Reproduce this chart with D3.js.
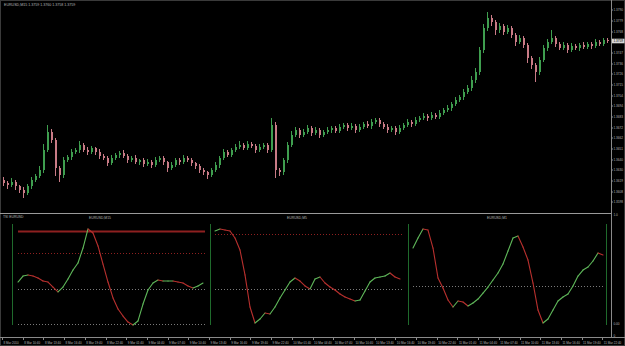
<!DOCTYPE html>
<html>
<head>
<meta charset="utf-8">
<script src="https://d3js.org/d3.v7.min.js"></script>
<style>
  body { margin: 0; background: #000; }
  text { font-family: "Liberation Sans", "DejaVu Sans", sans-serif; }
</style>
</head>
<body>
<svg></svg>
<script>
// EURUSD M15 closes (open of each bar = previous close)
var firstOpen = 1.3620;
var closes = [
  1.3617,1.3615,1.3618,1.3614,1.3610,1.3607,1.3614,1.3620,1.3624,1.3630,
  1.3650,1.3668,1.3660,1.3632,1.3625,1.3640,1.3643,1.3648,1.3650,1.3655,
  1.3650,1.3648,1.3652,1.3648,1.3644,1.3642,1.3637,1.3642,1.3645,1.3647,
  1.3644,1.3640,1.3642,1.3638,1.3640,1.3636,1.3638,1.3635,1.3640,1.3642,
  1.3638,1.3632,1.3635,1.3640,1.3638,1.3642,1.3640,1.3637,1.3634,1.3630,
  1.3628,1.3625,1.3630,1.3635,1.3642,1.3648,1.3645,1.3650,1.3653,1.3655,
  1.3652,1.3656,1.3654,1.3650,1.3653,1.3655,1.3650,1.3675,1.3630,1.3628,
  1.3640,1.3655,1.3665,1.3670,1.3665,1.3668,1.3672,1.3667,1.3670,1.3665,
  1.3668,1.3670,1.3672,1.3669,1.3673,1.3675,1.3672,1.3674,1.3670,1.3673,
  1.3676,1.3674,1.3678,1.3680,1.3676,1.3673,1.3670,1.3672,1.3668,1.3672,
  1.3675,1.3678,1.3676,1.3680,1.3682,1.3684,1.3682,1.3685,1.3683,1.3687,
  1.3690,1.3692,1.3696,1.3700,1.3703,1.3708,1.3712,1.3720,1.3728,1.3750,
  1.3772,1.3782,1.3778,1.3770,1.3774,1.3768,1.3772,1.3765,1.3758,1.3762,
  1.3755,1.3742,1.3735,1.3728,1.3740,1.3752,1.3758,1.3762,1.3756,1.3752,
  1.3755,1.3750,1.3754,1.3752,1.3755,1.3753,1.3756,1.3754,1.3758,1.3756,
  1.3760,1.3759
];
// wick lengths in pips above body / below body
var wickUp = [
  3,2,4,2,1,3,2,3,2,4, 6,7,3,2,2,3,2,3,2,4, 2,3,2,1,3,2,2,3,2,2,
  3,2,2,3,1,2,3,2,3,2, 2,1,3,2,2,3,2,2,1,2, 2,1,2,3,2,3,2,2,3,4,
  2,3,2,2,3,2,2,7,3,2, 2,3,4,3,2,3,3,2,3,2, 2,3,2,2,3,2,2,3,2,3,
  2,3,3,2,2,2,3,2,2,3, 2,3,2,3,2,3,2,3,2,3, 2,3,2,3,2,3,3,4,4,3,
  4,6,3,2,3,2,3,2,2,3, 2,2,2,2,3,3,3,8,2,2, 3,2,3,2,2,3,2,2,3,2,
  2,2
];
var wickDn = [
  3,4,2,4,3,5,2,3,2,2, 3,2,3,8,7,3,2,3,2,3, 2,3,2,3,3,2,3,2,2,3,
  2,3,2,2,3,3,2,3,2,2, 3,4,2,2,3,2,2,3,3,3, 3,4,2,2,3,2,2,2,2,2,
  2,2,2,3,2,2,3,2,8,4, 3,3,2,2,3,2,2,3,2,3, 2,2,3,2,2,2,3,2,3,2,
  2,2,3,2,3,2,3,2,3,2, 2,2,3,2,2,2,3,2,2,2, 2,2,3,2,2,3,2,3,3,3,
  3,3,4,5,3,3,2,3,4,2, 3,5,4,10,3,2,3,2,3,2, 2,3,2,2,3,2,2,3,2,2,
  2,2
];
var priceTicks = [1.3790,1.3779,1.3768,1.3758,1.3747,1.3736,1.3726,1.3715,1.3704,1.3694,
  1.3683,1.3672,1.3662,1.3651,1.3640,1.3630,1.3619,1.3608,1.3598];
var timeLabels = ['8 Mar 2010','8 Mar 10:40','8 Mar 13:40','8 Mar 16:40','8 Mar 19:40','8 Mar 22:40',
  '9 Mar 01:40','9 Mar 04:40','9 Mar 07:40','9 Mar 10:40','9 Mar 13:40','9 Mar 16:40','9 Mar 19:40',
  '9 Mar 22:40','10 Mar 01:40','10 Mar 04:40','10 Mar 07:40','10 Mar 10:40','10 Mar 13:40',
  '10 Mar 16:40','10 Mar 19:40','10 Mar 22:40','11 Mar 01:40','11 Mar 04:40','11 Mar 07:40',
  '11 Mar 10:40','11 Mar 13:40','11 Mar 16:40','11 Mar 19:40','11 Mar 22:40'];

// TSI sub-panels (0..100 window scale)
var tsiM15 = [38.5,44,45,44,42.2,39.4,38.5,33.9,29.4,33.9,41.3,49.5,56,69.7,87.2,83.5,71.6,55,38.5,
  23.9,13.8,7.3,1.8,-0.9,2.8,18.3,31.2,37.6,40.4,39.4,39.4,39.4,38.5,37.6,34.9,33,34.9,37.6];
var tsiM5 = [85.3,87.2,86.2,85.3,78.9,67.9,45,15.6,0.9,4.6,10.1,9.2,15.6,23.9,31.2,38.5,42.2,39.4,
  34.9,32.1,41.3,43.1,37.6,33.9,31.2,27.5,24.8,22.9,21.1,22,30.3,38.5,42.2,43.1,44,46.8,43.1,41.3];
var tsiM1 = [69.7,78.9,87.2,86.2,69.7,42.2,33,22,15.6,21.1,20.2,16.5,19.3,22.9,28.4,33.9,40.4,46.8,
  55,67,78.9,80.7,70.6,58.7,37.6,12.8,0.9,4.6,12.8,21.1,24.8,27.5,34.9,44,49.5,52.3,57.8,65.1,63.3];
var levelsM15 = [85, 65, 32, 0];
var levelsM5 = [83, 32];
var levelsM1 = [35];

var pip = 0.0001;
var bull = '#3f9e4f', bear = '#c97b86';
var txt = '#b8b8b8';

var svg = d3.select('svg').attr('width', 625).attr('height', 346)
  .style('background', '#000').style('display', 'block');

// frame + axes lines
svg.append('rect').attr('x', 0.5).attr('y', 0.5).attr('width', 624).attr('height', 345)
  .attr('fill', 'none').attr('stroke', '#3a3a3a');
svg.append('line').attr('x1', 611.5).attr('x2', 611.5).attr('y1', 0).attr('y2', 338)
  .attr('stroke', '#8a8a8a');
svg.append('line').attr('x1', 0).attr('x2', 611).attr('y1', 213.5).attr('y2', 213.5)
  .attr('stroke', '#9a9a9a').attr('stroke-width', 1.2);
svg.append('line').attr('x1', 0).attr('x2', 625).attr('y1', 337.5).attr('y2', 337.5)
  .attr('stroke', '#8a8a8a');

// ---- main candle chart ----
var x = d3.scaleLinear().domain([0, closes.length - 1]).range([3, 607]);
var y = d3.scaleLinear().domain([1.3588, 1.3800]).range([212, 0]);

var candles = closes.map(function(c, i) {
  var o = i ? closes[i - 1] : firstOpen;
  return { o: o, c: c,
    h: Math.max(o, c) + wickUp[i] * pip,
    l: Math.min(o, c) - wickDn[i] * pip };
});

var main = svg.append('g');
main.selectAll('line.wick').data(candles).join('line')
  .attr('class', 'wick')
  .attr('x1', function(d, i) { return Math.round(x(i)) + 0.5; })
  .attr('x2', function(d, i) { return Math.round(x(i)) + 0.5; })
  .attr('y1', function(d) { return y(d.h); })
  .attr('y2', function(d) { return y(d.l); })
  .attr('stroke', function(d) { return d.c >= d.o ? bull : bear; });
main.selectAll('rect.body').data(candles).join('rect')
  .attr('class', 'body')
  .attr('x', function(d, i) { return Math.round(x(i)); })
  .attr('width', 2)
  .attr('y', function(d) { return y(Math.max(d.o, d.c)); })
  .attr('height', function(d) { return Math.max(1, Math.abs(y(d.o) - y(d.c))); })
  .attr('fill', function(d) { return d.c >= d.o ? bull : bear; });

// header
svg.append('text').attr('x', 4).attr('y', 6).attr('font-size', 3.6).attr('fill', txt)
  .text('EURUSD,M15  1.3759 1.3760 1.3758 1.3759');

// price axis
var pa = svg.append('g');
pa.selectAll('line').data(priceTicks).join('line')
  .attr('x1', 611).attr('x2', 613)
  .attr('y1', function(d) { return y(d); }).attr('y2', function(d) { return y(d); })
  .attr('stroke', '#8a8a8a');
pa.selectAll('text').data(priceTicks).join('text')
  .attr('x', 613.5).attr('y', function(d) { return y(d) + 1.2; })
  .attr('font-size', 3.1).attr('fill', txt)
  .text(function(d) { return d.toFixed(4); });
var last = closes[closes.length - 1];
pa.append('rect').attr('x', 612).attr('y', y(last) - 2.3).attr('width', 12.5).attr('height', 4.6)
  .attr('fill', '#d8d8d8');
pa.append('text').attr('x', 613.5).attr('y', y(last) + 1.2).attr('font-size', 3.1)
  .attr('fill', '#000').text(last.toFixed(4));

// ---- indicator window ----
var ty = d3.scaleLinear().domain([0, 100]).range([324, 215]);
svg.append('text').attr('x', 3).attr('y', 218).attr('font-size', 3.4).attr('fill', txt)
  .text('TSI EURUSD');
[['1.0', 100], ['0.00', 0]].forEach(function(l) {
  svg.append('text').attr('x', 613.5).attr('y', ty(l[1]) + 1.2).attr('font-size', 3.1)
    .attr('fill', txt).text(l[0]);
});
svg.append('text').attr('x', 613.5).attr('y', 336.5).attr('font-size', 3.1).attr('fill', txt).text('0');

var panels = [
  { vals: tsiM15, levels: levelsM15, x0: 18, x1: 203, lx0: 18, lx1: 205, left: 12, title: 'EURUSD,M15', cx: 100, solidFirst: true, red: 2 },
  { vals: tsiM5, levels: levelsM5, x0: 215, x1: 400, lx0: 215, lx1: 403, left: 210, title: 'EURUSD,M5', cx: 297, solidFirst: false, red: 1 },
  { vals: tsiM1, levels: levelsM1, x0: 413, x1: 603, lx0: 413, lx1: 603, left: 408, title: 'EURUSD,M1', cx: 497, solidFirst: false, red: 0 }
];
var green = '#5fb85a', red = '#b8302e';

panels.forEach(function(p) {
  var g = svg.append('g');
  var px = d3.scaleLinear().domain([0, p.vals.length - 1]).range([p.x0, p.x1]);
  g.append('text').attr('x', p.cx).attr('y', 218.5).attr('text-anchor', 'middle')
    .attr('font-size', 3.4).attr('fill', txt).text(p.title);
  g.append('line').attr('x1', p.left + 0.5).attr('x2', p.left + 0.5).attr('y1', 224).attr('y2', 325)
    .attr('stroke', '#1f6a2c');
  g.selectAll('line.lvl').data(p.levels).join('line')
    .attr('class', 'lvl')
    .attr('x1', p.lx0).attr('x2', p.lx1)
    .attr('y1', function(d) { return Math.round(ty(d)) + 0.5; })
    .attr('y2', function(d) { return Math.round(ty(d)) + 0.5; })
    .attr('stroke', function(d, i) { return i < p.red ? '#8e2020' : '#7a7a7a'; })
    .attr('stroke-width', function(d, i) { return (p.solidFirst && i === 0) ? 2 : 1; })
    .attr('stroke-dasharray', function(d, i) { return (p.solidFirst && i === 0) ? null : '1,2'; });
  g.selectAll('line.seg').data(d3.pairs(p.vals)).join('line')
    .attr('class', 'seg')
    .attr('x1', function(d, i) { return px(i); })
    .attr('x2', function(d, i) { return px(i + 1); })
    .attr('y1', function(d) { return ty(d[0]); })
    .attr('y2', function(d) { return ty(d[1]); })
    .attr('stroke', function(d) { return d[1] >= d[0] ? green : red; })
    .attr('stroke-width', 1.1).attr('stroke-linecap', 'round');
});
// right edge line of the last sub-panel
svg.append('line').attr('x1', 606.5).attr('x2', 606.5).attr('y1', 224).attr('y2', 325)
  .attr('stroke', '#1f6a2c');

// ---- time axis ----
var tx = d3.scalePoint().domain(timeLabels).range([2, 2 + 29 * 20.7]);
var ta = svg.append('g');
ta.selectAll('line').data(timeLabels).join('line')
  .attr('x1', function(d) { return Math.round(tx(d)) + 0.5; })
  .attr('x2', function(d) { return Math.round(tx(d)) + 0.5; })
  .attr('y1', 337).attr('y2', 340).attr('stroke', '#8a8a8a');
ta.selectAll('text').data(timeLabels).join('text')
  .attr('x', function(d) { return tx(d) + 1.5; }).attr('y', 343.5)
  .attr('font-size', 3.0).attr('fill', txt)
  .text(function(d) { return d; });
</script>
</body>
</html>
